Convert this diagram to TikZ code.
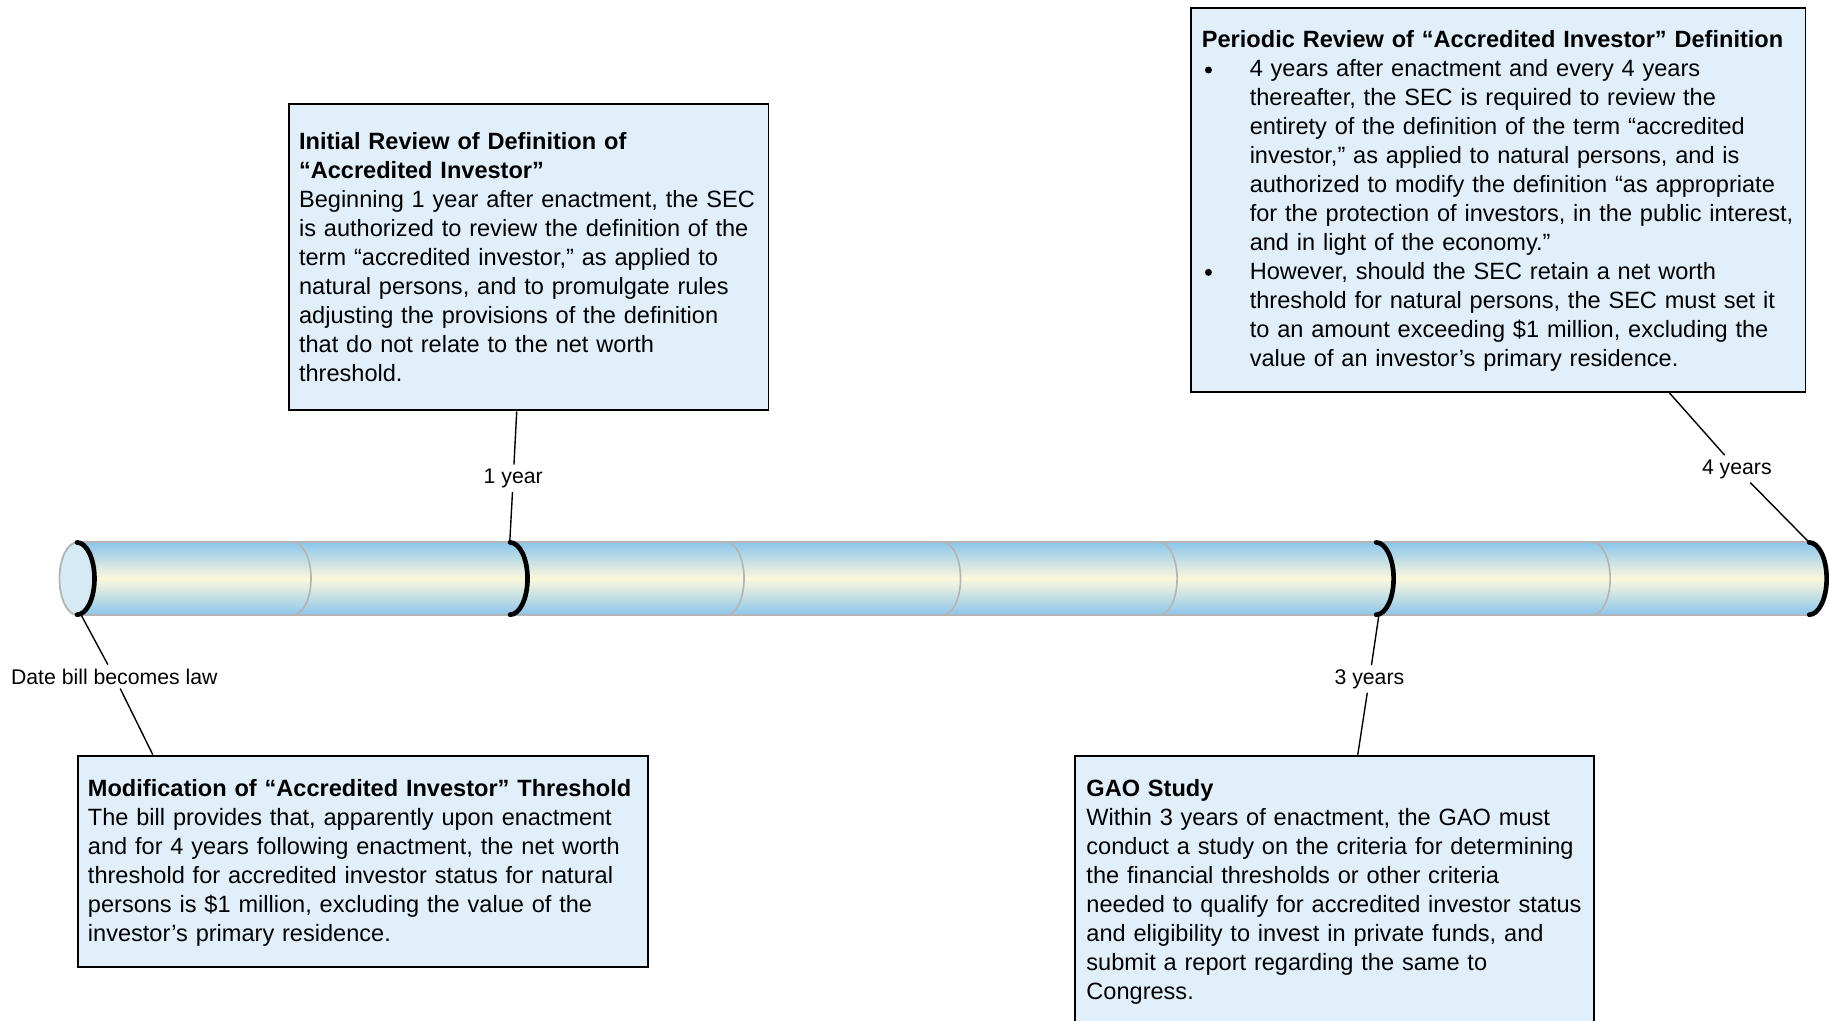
\documentclass[tikz,border=0pt]{standalone}
\usepackage{fontspec}
\setmainfont{Liberation Sans}
\definecolor{boxfill}{HTML}{E1EFFA}
\definecolor{cylblue}{HTML}{8CC6EC}
\definecolor{cylyellow}{HTML}{FCF8DC}
\definecolor{capfill}{HTML}{D6EAF6}
\definecolor{cylgray}{HTML}{B4B4B4}
\begin{document}
\begin{tikzpicture}[x=0.5pt,y=-0.5pt,
  box/.style={draw=black, line width=0.8pt, fill=boxfill, anchor=north west, inner sep=0pt},
  txt/.style={anchor=base west, inner sep=0pt, text width=280pt, align=left, font=\fontsize{10.1}{12.42}\selectfont},
  bul/.style={circle, fill=black, inner sep=0pt, minimum size=3pt},
  lbl/.style={font=\fontsize{9.1}{11}\selectfont, inner sep=1.6pt},
  conn/.style={draw=black, line width=0.6pt},
  cylline/.style={draw=cylgray, line width=0.8pt},
  tickarc/.style={draw=black, line width=2pt, line cap=round},
  divider/.style={draw=cylgray, line width=0.7pt}]
\clip (0,0) rectangle (1568,875);
% ---- boxes ----
\node[box, minimum width=205.5pt, minimum height=131.5pt] (b1) at (247,88) {};
\node[box, minimum width=263.5pt, minimum height=164.5pt] (b2) at (1020,6) {};
\node[box, minimum width=244.5pt, minimum height=90.5pt] (b3) at (66,647) {};
\node[box, minimum width=222.5pt, minimum height=130pt] (b4) at (921,647) {};
% ---- cylinder ----
\shade[top color=cylblue, bottom color=cylblue, middle color=cylyellow]
  (66,465) -- (1551,465) arc[start angle=90, end angle=-90, x radius=7.5pt, y radius=15.5pt] -- (66,527) -- cycle;
\draw[cylline] (66,465) -- (1551,465);
\draw[cylline] (66,527) -- (1551,527);
\foreach \k in {1,3,4,5,7}{
  \pgfmathsetmacro{\xx}{66+185.625*\k}
  \draw[divider] (\xx,465) arc[start angle=90, end angle=-90, x radius=7.5pt, y radius=15.5pt];
}
\draw[draw=cylgray, fill=capfill, line width=0.8pt] (66,496) ellipse[x radius=7.5pt, y radius=15.5pt];
\foreach \k in {0,2,6,8}{
  \pgfmathsetmacro{\xx}{66+185.625*\k}
  \draw[tickarc] (\xx,465) arc[start angle=90, end angle=-90, x radius=7.5pt, y radius=15.5pt];
}
\coordinate (p0) at (70,528);
\coordinate (p2) at (437,465);
\coordinate (p6) at (1182,528);
\coordinate (p8) at (1551,465);
\coordinate (b1a) at ([xshift=98pt]b1.south west);
\coordinate (b2a) at ([xshift=205.5pt]b2.south west);
\coordinate (b3a) at ([xshift=32.5pt]b3.north west);
\coordinate (b4a) at ([xshift=121.5pt]b4.north west);
% ---- labels and connectors ----
\node[lbl] (l0) at (98,580) {Date bill becomes law};
\node[lbl] (l2) at (440,410) {1 year};
\node[lbl] (l6) at (1174,582) {3 years};
\node[lbl] (l8) at (1489,402) {4 years};
\draw[conn] (p0) -- (l0); \draw[conn] (l0) -- (b3a);
\draw[conn] (p2) -- (l2); \draw[conn] (l2) -- (b1a);
\draw[conn] (p6) -- (l6); \draw[conn] (l6) -- (b4a);
\draw[conn] (p8) -- (l8); \draw[conn] (l8) -- (b2a);
% ---- texts ----
\node[txt] (t1) at (256,128) {\textbf{Initial Review of Definition of}\\
\textbf{“Accredited Investor”}\\
Beginning 1 year after enactment, the SEC\\
is authorized to review the definition of the\\
term “accredited investor,” as applied to\\
natural persons, and to promulgate rules\\
adjusting the provisions of the definition\\
that do not relate to the net worth\\
threshold.};
\node[txt] (t2h) at (1030,41) {\textbf{Periodic Review of “Accredited Investor” Definition}};
\node[bul] (u1) at (1036,60) {};
\node[bul] (u2) at (1036,233.5) {};
\node[txt] (t2) at (1071,66) {4 years after enactment and every 4 years\\
thereafter, the SEC is required to review the\\
entirety of the definition of the term “accredited\\
investor,” as applied to natural persons, and is\\
authorized to modify the definition “as appropriate\\
for the protection of investors, in the public interest,\\
and in light of the economy.”\\
However, should the SEC retain a net worth\\
threshold for natural persons, the SEC must set it\\
to an amount exceeding \$1 million, excluding the\\
value of an investor’s primary residence.};
\node[txt] (t3) at (75,683) {\textbf{Modification of “Accredited Investor” Threshold}\\
The bill provides that, apparently upon enactment\\
and for 4 years following enactment, the net worth\\
threshold for accredited investor status for natural\\
persons is \$1 million, excluding the value of the\\
investor’s primary residence.};
\node[txt] (t4) at (931,683) {\textbf{GAO Study}\\
Within 3 years of enactment, the GAO must\\
conduct a study on the criteria for determining\\
the financial thresholds or other criteria\\
needed to qualify for accredited investor status\\
and eligibility to invest in private funds, and\\
submit a report regarding the same to\\
Congress.};
\end{tikzpicture}
\end{document}
